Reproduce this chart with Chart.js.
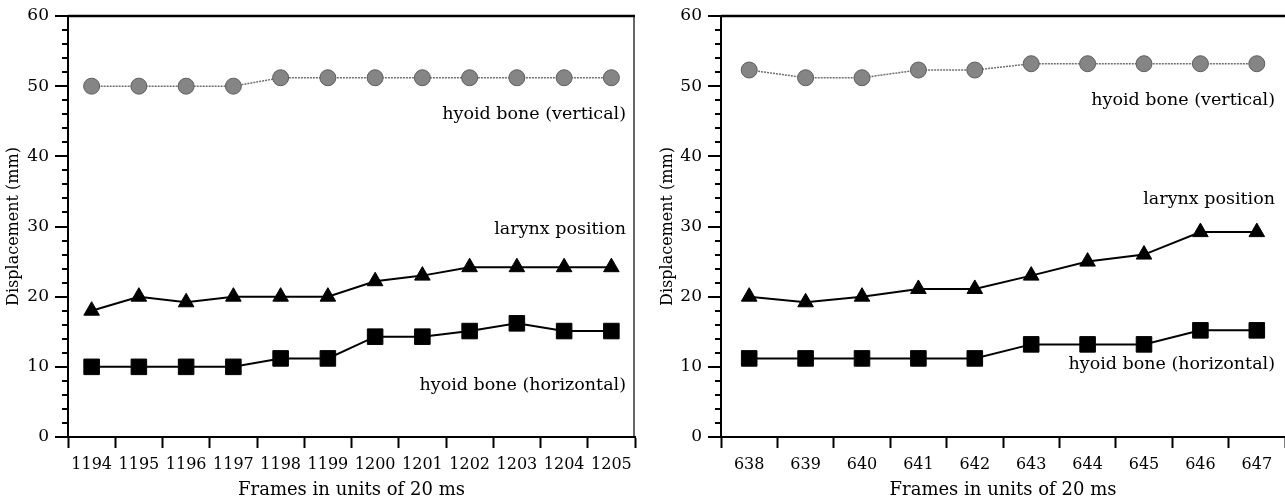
<!DOCTYPE html>
<html>
<head>
<meta charset="utf-8">
<script src="https://cdn.jsdelivr.net/npm/chart.js@4.4.0/dist/chart.umd.min.js"></script>
<style>
  html, body { margin: 0; padding: 0; background: #fff; }
  #wrap { position: relative; width: 1285px; height: 504px; }
  .box { position: absolute; top: 0; height: 504px; }
</style>
</head>
<body>
<div id="wrap">
  <div class="box" style="left:0;width:640px"><canvas id="left"></canvas></div>
  <div class="box" style="left:640px;width:645px"><canvas id="right"></canvas></div>
</div>
<script>
// left panel
const leftFrames = ['1194', '1195', '1196', '1197', '1198', '1199', '1200', '1201', '1202', '1203', '1204', '1205'];
const leftHyoidVertical = [50, 50, 50, 50, 51.2, 51.2, 51.2, 51.2, 51.2, 51.2, 51.2, 51.2];
const leftLarynx = [18, 20, 19.2, 20, 20, 20, 22.2, 23, 24.2, 24.2, 24.2, 24.2];
const leftHyoidHorizontal = [10, 10, 10, 10, 11.2, 11.2, 14.3, 14.3, 15.1, 16.2, 15.1, 15.1];

// right panel
const rightFrames = ['638', '639', '640', '641', '642', '643', '644', '645', '646', '647'];
const rightHyoidVertical = [52.3, 51.2, 51.2, 52.3, 52.3, 53.2, 53.2, 53.2, 53.2, 53.2];
const rightLarynx = [20, 19.2, 20, 21.1, 21.1, 23, 25, 26, 29.2, 29.2];
const rightHyoidHorizontal = [11.2, 11.2, 11.2, 11.2, 11.2, 13.2, 13.2, 13.2, 15.2, 15.2];

const serif = "'DejaVu Serif', 'Liberation Serif', serif";

function makeDatasets(vert, lar, hor) {
  return [
    {
      label: 'hyoid bone (vertical)',
      data: vert,
      borderColor: '#6f6f6f',
      borderWidth: 1.5,
      borderDash: [2, 1],
      pointStyle: 'circle',
      pointRadius: 8,
      pointBackgroundColor: '#858585',
      pointBorderColor: '#5e5e5e',
      pointBorderWidth: 1,
    },
    {
      label: 'larynx position',
      data: lar,
      borderColor: '#000',
      borderWidth: 2,
      pointStyle: 'triangle',
      pointRadius: 9,
      pointBackgroundColor: '#000',
      pointBorderColor: '#000',
      pointBorderWidth: 1,
    },
    {
      label: 'hyoid bone (horizontal)',
      data: hor,
      borderColor: '#000',
      borderWidth: 2,
      pointStyle: 'rect',
      pointRadius: 11,
      pointBackgroundColor: '#000',
      pointBorderColor: '#000',
      pointBorderWidth: 1,
    },
  ];
}

// y ticks (minor every 2, major every 10) + frame + series labels
const decorPlugin = {
  id: 'decor',
  afterDraw(chart, args, opts) {
    const { ctx, chartArea } = chart;
    const y = chart.scales.y;
    ctx.save();
    ctx.strokeStyle = '#000';
    ctx.lineWidth = 2;
    for (let v = 0; v <= 60; v += 2) {
      const py = Math.round(y.getPixelForValue(v));
      const len = v % 10 === 0 ? 13 : 6;
      ctx.beginPath();
      ctx.moveTo(chartArea.left - len, py);
      ctx.lineTo(chartArea.left, py);
      ctx.stroke();
    }
    // top border
    ctx.lineWidth = 2.5;
    ctx.beginPath();
    ctx.moveTo(chartArea.left, chartArea.top);
    ctx.lineTo(chartArea.right, chartArea.top);
    ctx.stroke();
    if (opts.rightBorder) {
      ctx.lineWidth = 1.2;
      ctx.beginPath();
      ctx.moveTo(chartArea.right - 1, chartArea.top);
      ctx.lineTo(chartArea.right - 1, chartArea.bottom);
      ctx.stroke();
    }
    ctx.fillStyle = '#000';
    ctx.font = '17.5px ' + serif;
    ctx.textAlign = 'right';
    ctx.textBaseline = 'middle';
    opts.labels.forEach((l) => {
      ctx.fillText(l.text, chartArea.right - opts.inset, y.getPixelForValue(l.value));
    });
    ctx.restore();
  },
};

function makeChart(id, frames, datasets, axisWidth, titlePad, padRight, decor) {
  return new Chart(document.getElementById(id), {
    type: 'line',
    data: { labels: frames, datasets },
    plugins: [decorPlugin],
    options: {
      responsive: true,
      maintainAspectRatio: false,
      animation: false,
      clip: false,
      layout: { autoPadding: false, padding: { top: 16, right: padRight, left: 0, bottom: 0 } },
      elements: { line: { tension: 0 } },
      plugins: {
        legend: { display: false },
        tooltip: { enabled: false },
        decor,
      },
      scales: {
        x: {
          offset: true,
          grid: {
            display: true,
            offset: true,
            drawOnChartArea: false,
            drawTicks: true,
            tickLength: 11,
            tickWidth: 2,
            tickColor: '#000',
          },
          border: { display: true, color: '#000', width: 2 },
          ticks: {
            color: '#000',
            font: { family: serif, size: 16 },
            padding: 7,
            maxRotation: 0,
            autoSkip: false,
          },
          title: {
            display: true,
            text: 'Frames in units of 20 ms',
            color: '#000',
            font: { family: serif, size: 18 },
            padding: { top: 0, bottom: 3 },
          },
          afterFit(scale) {
            scale.height = 67;
            scale.paddingLeft = 0;
            scale.paddingRight = 0;
          },
        },
        y: {
          min: 0,
          max: 60,
          grid: { display: false, drawTicks: false },
          border: { display: true, color: '#000', width: 2 },
          ticks: {
            stepSize: 10,
            color: '#000',
            font: { family: serif, size: 17 },
            padding: 19,
          },
          title: {
            display: true,
            text: 'Displacement (mm)',
            color: '#000',
            font: { family: serif, size: 16 },
            padding: { top: titlePad, bottom: 0 },
          },
          afterFit(scale) {
            scale.width = axisWidth;
            scale.paddingTop = 0;
            scale.paddingBottom = 0;
          },
        },
      },
    },
  });
}

makeChart('left', leftFrames,
  makeDatasets(leftHyoidVertical, leftLarynx, leftHyoidHorizontal),
  68, 4, 5,
  {
    rightBorder: true,
    inset: 9,
    labels: [
      { text: 'hyoid bone (vertical)', value: 46.0 },
      { text: 'larynx position', value: 29.6 },
      { text: 'hyoid bone (horizontal)', value: 7.3 },
    ],
  });

makeChart('right', rightFrames,
  makeDatasets(rightHyoidVertical, rightLarynx, rightHyoidHorizontal),
  81, 18, 0,
  {
    rightBorder: false,
    inset: 10,
    labels: [
      { text: 'hyoid bone (vertical)', value: 48.0 },
      { text: 'larynx position', value: 33.9 },
      { text: 'hyoid bone (horizontal)', value: 10.4 },
    ],
  });
</script>
</body>
</html>
